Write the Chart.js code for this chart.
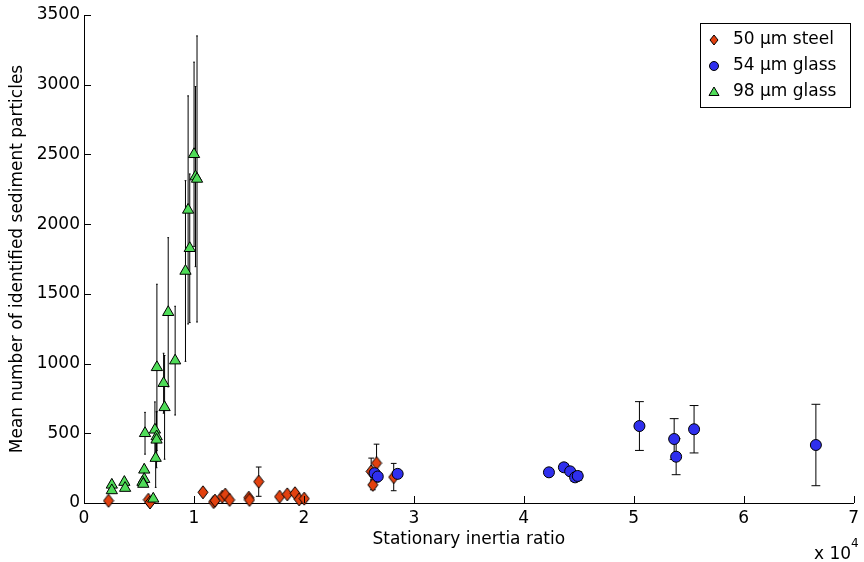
<!DOCTYPE html>
<html>
<head>
<meta charset="utf-8">
<script src="https://cdn.jsdelivr.net/npm/chart.js@4.4.1/dist/chart.umd.min.js"></script>
<style>
  html, body { margin: 0; padding: 0; background: #fff; }
</style>
</head>
<body>
<canvas id="chart" width="864" height="562"></canvas>
<script>
// Stationary inertia ratio (x), mean particle count (y) and error half-width
const steelX = [2230, 5850, 6000, 10820, 11790, 11910, 12580, 12850, 13240, 14990, 15050, 15890, 17790, 18490, 19190, 19570, 20030, 26120, 26270, 26610, 28170];
const steelY = [16, 23, 4, 77, 7, 17, 45, 60, 22, 38, 22, 153, 45, 62, 70, 26, 31, 226, 130, 286, 186];
const steelErr = [0, 0, 0, 0, 0, 0, 0, 0, 0, 0, 0, 105, 0, 15, 0, 0, 0, 96, 35, 136, 98];

const glass54X = [26430, 26720, 28530, 42290, 43650, 44220, 44670, 44910, 50520, 53680, 53860, 55490, 66570];
const glass54Y = [214, 190, 209, 220, 256, 227, 184, 194, 552, 459, 332, 529, 416];
const glass54Err = [20, 15, 15, 20, 25, 20, 30, 30, 175, 146, 129, 170, 292];

const glass98X = [10010, 10140, 10280, 9470, 9620, 9230, 7660, 8290, 6630, 7240, 7330, 5550, 6450, 6610, 6600, 6520, 5480, 5480, 5320, 5390, 3670, 3740, 2530, 2530, 6300];
const glass98Y = [2501, 2341, 2324, 2102, 1827, 1664, 1368, 1021, 973, 859, 686, 500, 525, 477, 453, 322, 238, 171, 150, 136, 150, 107, 130, 90, 30];
const glass98Err = [661, 646, 1026, 818, 533, 648, 535, 390, 596, 215, 372, 150, 200, 180, 200, 210, 40, 30, 20, 15, 0, 0, 0, 0, 20];

const seriesNames = ["50 \u00b5m steel", "54 \u00b5m glass", "98 \u00b5m glass"];
const xTicks = [0, 10000, 20000, 30000, 40000, 50000, 60000, 70000];
const yTicks = [0, 500, 1000, 1500, 2000, 2500, 3000, 3500];

const RED = "#e2410f";
const BLUE = "#2f2fee";
const GREEN = "#4fdc58";
const FONT = "'DejaVu Sans', sans-serif";

function toPoints(xs, ys) {
  return xs.map((x, i) => ({ x: x, y: ys[i] }));
}

function makeDiamond(w, h, fill) {
  let c = document.createElement("canvas");
  c.width = w + 2;
  c.height = h + 2;
  let g = c.getContext("2d");
  g.beginPath();
  g.moveTo(c.width / 2, 1);
  g.lineTo(c.width - 1, c.height / 2);
  g.lineTo(c.width / 2, c.height - 1);
  g.lineTo(1, c.height / 2);
  g.closePath();
  g.fillStyle = fill;
  g.fill();
  g.strokeStyle = "#000";
  g.lineWidth = 1;
  g.stroke();
  return c;
}

// Matlab style error bars, cap width is 1% of the series x range each side
const errorBars = {
  id: "errorBars",
  beforeDatasetDraw(chart, args) {
    const ds = chart.data.datasets[args.index];
    if (!ds.err) return;
    const xs = ds.data.map(p => p.x);
    const tee = (Math.max(...xs) - Math.min(...xs)) / 100;
    const xScale = chart.scales.x;
    const yScale = chart.scales.y;
    const ctx = chart.ctx;
    ctx.save();
    ctx.strokeStyle = "#000";
    ctx.lineWidth = 1;
    ds.data.forEach((p, i) => {
      const e = ds.err[i];
      if (!e) return;
      const px = xScale.getPixelForValue(p.x);
      const left = xScale.getPixelForValue(p.x - tee);
      const right = xScale.getPixelForValue(p.x + tee);
      const top = yScale.getPixelForValue(p.y + e);
      const bottom = yScale.getPixelForValue(p.y - e);
      ctx.beginPath();
      ctx.moveTo(px, top);
      ctx.lineTo(px, bottom);
      ctx.moveTo(left, top);
      ctx.lineTo(right, top);
      ctx.moveTo(left, bottom);
      ctx.lineTo(right, bottom);
      ctx.stroke();
    });
    ctx.restore();
  }
};

// inward tick marks, axis titles, exponent label and legend
const decorations = {
  id: "decorations",
  afterDraw(chart) {
    const ctx = chart.ctx;
    const area = chart.chartArea;
    const xScale = chart.scales.x;
    const yScale = chart.scales.y;
    ctx.save();
    ctx.strokeStyle = "#000";
    ctx.lineWidth = 1;
    ctx.beginPath();
    xTicks.forEach(v => {
      const px = Math.round(xScale.getPixelForValue(v)) + 0.5;
      ctx.moveTo(px, area.bottom);
      ctx.lineTo(px, area.bottom - 7);
    });
    yTicks.forEach(v => {
      const py = Math.round(yScale.getPixelForValue(v)) + 0.5;
      ctx.moveTo(area.left, py);
      ctx.lineTo(area.left + 7, py);
    });
    ctx.stroke();

    ctx.fillStyle = "#000";
    ctx.font = "17px " + FONT;
    ctx.textAlign = "center";
    ctx.textBaseline = "middle";
    ctx.fillText("Stationary inertia ratio", (area.left + area.right) / 2, 540);

    ctx.save();
    ctx.translate(18, (area.top + area.bottom) / 2);
    ctx.rotate(-Math.PI / 2);
    ctx.fillText("Mean number of identified sediment particles", 0, 0);
    ctx.restore();

    ctx.textAlign = "left";
    ctx.textBaseline = "alphabetic";
    ctx.fillText("x 10", 814, 559);
    ctx.font = "12px " + FONT;
    ctx.fillText("4", 851, 547);

    // legend
    const lx = 700.5, ly = 23.5, lw = 150, lh = 84;
    ctx.fillStyle = "#fff";
    ctx.fillRect(lx, ly, lw, lh);
    ctx.strokeRect(lx, ly, lw, lh);
    const rows = [40, 66, 92];
    const mx = 714;
    ctx.lineWidth = 1;
    ctx.strokeStyle = "#000";

    // diamond
    ctx.beginPath();
    ctx.moveTo(mx, rows[0] - 5);
    ctx.lineTo(mx + 4, rows[0]);
    ctx.lineTo(mx, rows[0] + 5);
    ctx.lineTo(mx - 4, rows[0]);
    ctx.closePath();
    ctx.fillStyle = RED;
    ctx.fill();
    ctx.stroke();

    // circle
    ctx.beginPath();
    ctx.arc(mx, rows[1], 4.5, 0, Math.PI * 2);
    ctx.fillStyle = BLUE;
    ctx.fill();
    ctx.stroke();

    // triangle
    ctx.beginPath();
    ctx.moveTo(mx, rows[2] - 5);
    ctx.lineTo(mx + 5, rows[2] + 3.5);
    ctx.lineTo(mx - 5, rows[2] + 3.5);
    ctx.closePath();
    ctx.fillStyle = GREEN;
    ctx.fill();
    ctx.stroke();

    ctx.fillStyle = "#000";
    ctx.font = "17px " + FONT;
    ctx.textBaseline = "middle";
    seriesNames.forEach((name, i) => {
      ctx.fillText(name, 733, rows[i]);
    });
    ctx.restore();
  }
};

Chart.defaults.font.family = FONT;
Chart.defaults.font.size = 17;
Chart.defaults.color = "#000";

const ctx = document.getElementById("chart").getContext("2d");

let chartInstance = new Chart(ctx, {
  type: "scatter",
  data: {
    datasets: [
      {
        label: seriesNames[0],
        data: toPoints(steelX, steelY),
        err: steelErr,
        pointStyle: makeDiamond(10, 13, RED),
        pointRadius: 7,
        clip: false,
        order: 3
      },
      {
        label: seriesNames[1],
        data: toPoints(glass54X, glass54Y),
        err: glass54Err,
        pointStyle: "circle",
        pointRadius: 5.5,
        backgroundColor: BLUE,
        borderColor: "#000",
        borderWidth: 1,
        clip: false,
        order: 2
      },
      {
        label: seriesNames[2],
        data: toPoints(glass98X, glass98Y),
        err: glass98Err,
        pointStyle: "triangle",
        pointRadius: 6.5,
        backgroundColor: GREEN,
        borderColor: "#000",
        borderWidth: 1,
        clip: false,
        order: 1
      }
    ]
  },
  options: {
    responsive: false,
    animation: false,
    events: [],
    layout: {
      padding: { left: 0, right: 7, top: 15, bottom: 0 }
    },
    plugins: {
      legend: { display: false },
      tooltip: { enabled: false }
    },
    scales: {
      x: {
        type: "linear",
        min: 0,
        max: 70000,
        afterFit(scale) { scale.height = 59; },
        afterBuildTicks(scale) { scale.ticks = xTicks.map(v => ({ value: v })); },
        ticks: {
          padding: 5,
          maxRotation: 0,
          callback: v => String(v / 10000)
        },
        grid: { drawOnChartArea: false, drawTicks: false },
        border: { color: "#000", width: 1 }
      },
      y: {
        type: "linear",
        min: 0,
        max: 3500,
        afterFit(scale) { scale.width = 84; },
        afterBuildTicks(scale) { scale.ticks = yTicks.map(v => ({ value: v })); },
        ticks: {
          padding: 4,
          callback: v => String(v)
        },
        grid: { drawOnChartArea: false, drawTicks: false },
        border: { color: "#000", width: 1 }
      }
    }
  },
  plugins: [errorBars, decorations]
});
</script>
</body>
</html>
